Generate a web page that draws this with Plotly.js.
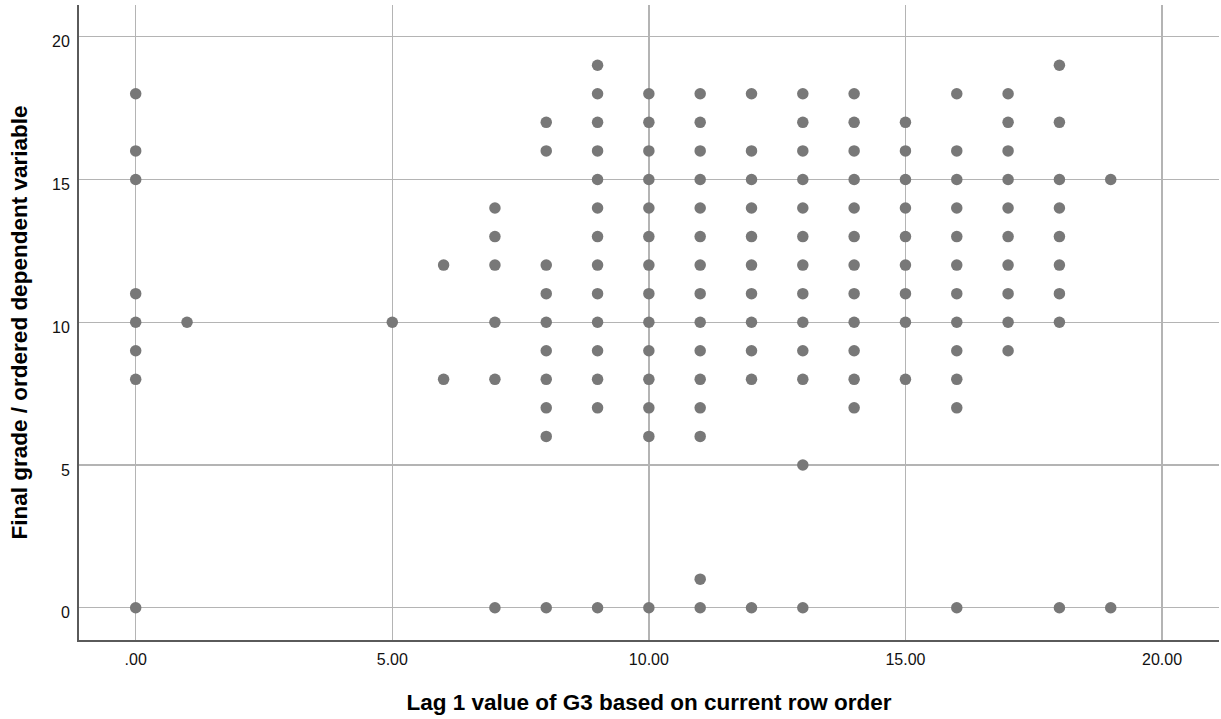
<!DOCTYPE html>
<html>
<head>
<meta charset="utf-8">
<script src="https://cdn.plot.ly/plotly-3.0.1.min.js"></script>
<style>
  html, body { margin: 0; padding: 0; background: #ffffff; }
  #chart { width: 1221px; height: 719px; }
</style>
</head>
<body>
<div id="chart"></div>
<script>
// Final grade (G3) values observed at each lag-1 value of G3
const lagValues = [0, 1, 5, 6, 7, 8, 9, 10, 11, 12, 13, 14, 15, 16, 17, 18, 19];
const gradesLag0  = [18, 16, 15, 11, 10, 9, 8, 0];
const gradesLag1  = [10];
const gradesLag5  = [10];
const gradesLag6  = [12, 8];
const gradesLag7  = [14, 13, 12, 10, 8, 0];
const gradesLag8  = [17, 16, 12, 11, 10, 9, 8, 7, 6, 0];
const gradesLag9  = [19, 18, 17, 16, 15, 14, 13, 12, 11, 10, 9, 8, 7, 0];
const gradesLag10 = [18, 17, 16, 15, 14, 13, 12, 11, 10, 9, 8, 7, 6, 0];
const gradesLag11 = [18, 17, 16, 15, 14, 13, 12, 11, 10, 9, 8, 7, 6, 1, 0];
const gradesLag12 = [18, 16, 15, 14, 13, 12, 11, 10, 9, 8, 0];
const gradesLag13 = [18, 17, 16, 15, 14, 13, 12, 11, 10, 9, 8, 5, 0];
const gradesLag14 = [18, 17, 16, 15, 14, 13, 12, 11, 10, 9, 8, 7];
const gradesLag15 = [17, 16, 15, 14, 13, 12, 11, 10, 8];
const gradesLag16 = [18, 16, 15, 14, 13, 12, 11, 10, 9, 8, 7, 0];
const gradesLag17 = [18, 17, 16, 15, 14, 13, 12, 11, 10, 9];
const gradesLag18 = [19, 17, 15, 14, 13, 12, 11, 10, 0];
const gradesLag19 = [15, 0];

const xTickVals = [0, 5, 10, 15, 20];
const xTickText = ['.00', '5.00', '10.00', '15.00', '20.00'];
const yTickVals = [0, 5, 10, 15, 20];
const yTickText = ['0', '5', '10', '15', '20'];

const columns = [gradesLag0, gradesLag1, gradesLag5, gradesLag6, gradesLag7, gradesLag8,
  gradesLag9, gradesLag10, gradesLag11, gradesLag12, gradesLag13, gradesLag14,
  gradesLag15, gradesLag16, gradesLag17, gradesLag18, gradesLag19];

const xs = [], ys = [];
columns.forEach((col, i) => {
  col.forEach(g => { xs.push(lagValues[i]); ys.push(g); });
});

const font = 'Liberation Sans, Arial, Helvetica, sans-serif';

const trace = {
  type: 'scatter',
  mode: 'markers',
  x: xs,
  y: ys,
  marker: { color: '#787878', size: 11.5, line: { width: 0 } },
  hoverinfo: 'x+y',
  showlegend: false
};

const layout = {
  width: 1221,
  height: 719,
  margin: { l: 79, r: 2, t: 5, b: 79 },
  paper_bgcolor: '#ffffff',
  plot_bgcolor: '#ffffff',
  font: { family: font, color: '#000000' },
  xaxis: {
    range: [-1.105, 21.11],
    tickmode: 'array',
    tickvals: xTickVals,
    ticktext: xTickText,
    ticks: '',
    tickfont: { family: font, size: 16, color: '#111111' },
    showgrid: true,
    gridcolor: '#b4b4b4',
    gridwidth: 1.4,
    zeroline: false,
    showline: true,
    linecolor: '#5a5a5a',
    linewidth: 2,
    ticklabelstandoff: 4,
    title: { text: 'Lag 1 value of G3 based on current row order',
             font: { family: font, size: 22.5, color: '#000000', weight: 'bold' },
             standoff: 27 },
    automargin: false
  },
  yaxis: {
    range: [-1.13, 21.11],
    tickmode: 'array',
    tickvals: yTickVals,
    ticktext: yTickText,
    ticks: '',
    tickfont: { family: font, size: 16, color: '#111111' },
    showgrid: true,
    gridcolor: '#b4b4b4',
    gridwidth: 1.4,
    zeroline: false,
    showline: true,
    linecolor: '#5a5a5a',
    linewidth: 2,
    ticklabelstandoff: 4,
    ticklabelshift: 5,
    title: { text: 'Final grade / ordered dependent variable',
             font: { family: font, size: 22.5, color: '#000000', weight: 'bold' },
             standoff: 18 },
    automargin: false
  }
};

Plotly.newPlot('chart', [trace], layout, { displayModeBar: false, staticPlot: true });
</script>
</body>
</html>
